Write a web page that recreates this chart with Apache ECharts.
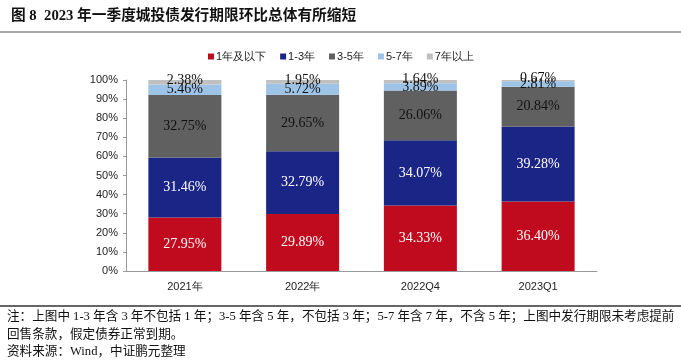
<!DOCTYPE html>
<html>
<head>
<meta charset="utf-8">
<script src="https://cdn.jsdelivr.net/npm/echarts@6/dist/echarts.min.js"></script>
<style>
html,body{margin:0;padding:0;background:#fff;}
#c{width:681px;height:360px;}
</style>
</head>
<body>
<div id="c"></div>
<script>
const categories = ['2021年', '2022年', '2022Q4', '2023Q1'];
const seriesNames = ['1年及以下', '1-3年', '3-5年', '5-7年', '7年以上'];
const s1 = [27.95, 29.89, 34.33, 36.40];
const s2 = [31.46, 32.79, 34.07, 39.28];
const s3 = [32.75, 29.65, 26.06, 20.84];
const s4 = [5.46, 5.72, 3.89, 2.81];
const s5 = [2.38, 1.95, 1.64, 0.67];
const yTicks = [0, 10, 20, 30, 40, 50, 60, 70, 80, 90, 100];

const colors = ['#C00A1E', '#1B2585', '#606060', '#9DC3E6', '#C0C0C0'];
const labelColors = ['#fff', '#fff', '#111', '#111', '#111'];
const allData = [s1, s2, s3, s4, s5];

const chart = echarts.init(document.getElementById('c'));
const serif = '"Liberation Serif", "Times New Roman", serif';
const sans = '"Liberation Sans", Arial, sans-serif';
const cjkSerif = '"Liberation Serif", "Noto Sans CJK SC", serif';

chart.setOption({
  animation: false,
  color: colors,
  title: {
    text: '图 8  2023 年一季度城投债发行期限环比总体有所缩短',
    left: 6, top: 4,
    textStyle: {fontSize: 14.7, fontWeight: 'bold', color: '#111', fontFamily: cjkSerif}
  },
  legend: {
    data: seriesNames,
    left: 203, top: 46,
    itemWidth: 6, itemHeight: 6, itemGap: 14,
    icon: 'rect',
    textStyle: {fontSize: 11, color: '#222', fontFamily: sans, padding: [0,0,0,-3]}
  },
  grid: {left: 126, right: 84, top: 80, bottom: 89},
  xAxis: {
    type: 'category',
    data: categories,
    axisLine: {lineStyle: {color: '#999'}},
    axisTick: {show: false},
    axisLabel: {fontSize: 11, color: '#222', fontFamily: sans, margin: 10}
  },
  yAxis: {
    type: 'value',
    min: yTicks[0], max: yTicks[yTicks.length - 1], interval: 10,
    axisLine: {show: true, lineStyle: {color: '#999'}},
    axisTick: {show: true, length: 3, lineStyle: {color: '#999'}},
    splitLine: {show: false},
    axisLabel: {fontSize: 11, color: '#222', fontFamily: sans, margin: 8, formatter: '{value}%'}
  },
  series: seriesNames.map((n, i) => ({
    name: n,
    type: 'bar',
    stack: 'total',
    barWidth: '62%',
    data: allData[i],
    itemStyle: {color: colors[i]},
    label: {
      show: true,
      position: 'inside',
      formatter: p => p.value.toFixed(2) + '%',
      color: labelColors[i],
      fontSize: 14,
      fontFamily: serif,
      offset: i === 4 ? [0, -2] : [0, 0]
    }
  })),
  graphic: [
    {type: 'line', shape: {x1: 0, y1: 32, x2: 681, y2: 32}, style: {stroke: '#888', lineWidth: 1.5}},
    {type: 'line', shape: {x1: 0, y1: 306, x2: 681, y2: 306}, style: {stroke: '#333', lineWidth: 1.5}},
    {type: 'text', left: 7, top: 310, style: {text: '注：上图中 1-3 年含 3 年不包括 1 年；3-5 年含 5 年，不包括 3 年；5-7 年含 7 年，不含 5 年；上图中发行期限未考虑提前', fontSize: 12.6, fill: '#111', fontFamily: cjkSerif}},
    {type: 'text', left: 7, top: 328, style: {text: '回售条款，假定债券正常到期。', fontSize: 12.6, fill: '#111', fontFamily: cjkSerif}},
    {type: 'text', left: 7, top: 345, style: {text: '资料来源：Wind，中证鹏元整理', fontSize: 12.6, fill: '#111', fontFamily: cjkSerif}}
  ]
});
</script>
</body>
</html>
